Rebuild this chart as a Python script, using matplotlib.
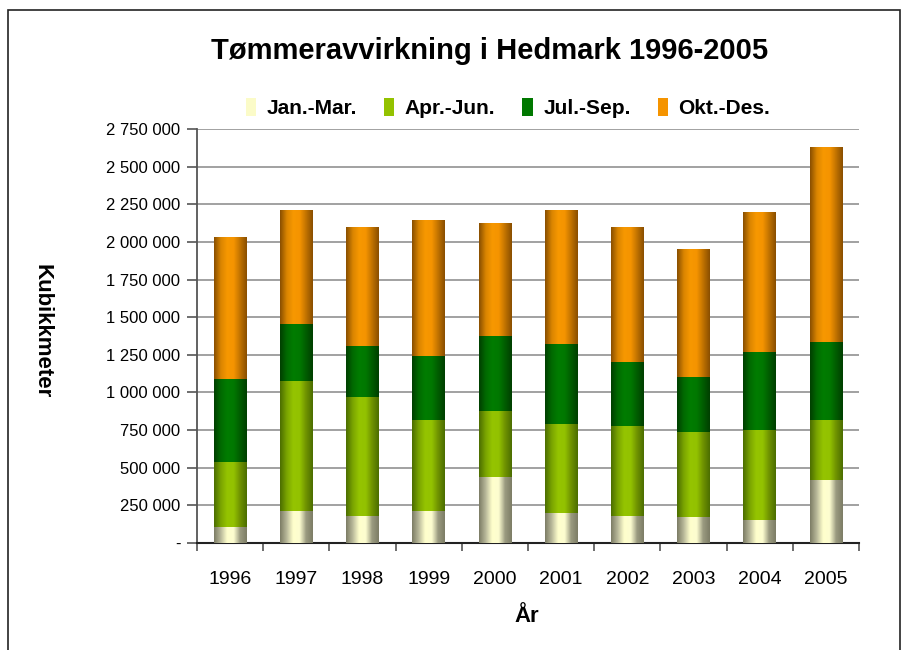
import matplotlib
matplotlib.use("Agg")
import matplotlib.pyplot as plt
import numpy as np
from matplotlib.colors import LinearSegmentedColormap
from matplotlib.patches import Rectangle
from matplotlib.ticker import FuncFormatter

years = ["1996", "1997", "1998", "1999", "2000", "2001", "2002", "2003", "2004", "2005"]
series_names = ["Jan.-Mar.", "Apr.-Jun.", "Jul.-Sep.", "Okt.-Des."]
jan_mar = [104000, 215000, 181000, 215000, 440000, 201000, 181000, 175000, 155000, 416000]
apr_jun = [436000, 862000, 790000, 604000, 438000, 591000, 598000, 564000, 597000, 403000]
jul_sep = [551000, 379000, 339000, 424000, 498000, 531000, 425000, 365000, 518000, 517000]
okt_des = [942000, 756000, 790000, 903000, 750000, 889000, 896000, 850000, 929000, 1295000]
yticks = [0, 250000, 500000, 750000, 1000000, 1250000, 1500000, 1750000, 2000000,
          2250000, 2500000, 2750000]

# gradient colours (edge, centre, edge)
grad_cols = [
    ["#7d7d66", "#b9b99a", "#ffffcc", "#fdfdd0", "#9a9a80", "#7d7d66"],
    ["#4c6e00", "#7aa400", "#95c400", "#93c200", "#6f9200", "#4c6e00"],
    ["#003f00", "#006a00", "#007c00", "#007800", "#005c00", "#003f00"],
    ["#8a4f00", "#d98400", "#f79800", "#f59400", "#c07200", "#8a4f00"],
]
solid_cols = ["#fbfbc8", "#93c200", "#007800", "#f59400"]

plt.rcParams['font.family'] = ['Liberation Sans', 'DejaVu Sans']

fig = plt.figure(figsize=(9.04, 6.5), dpi=100)
W, H = 904, 650
ax = fig.add_axes([197 / W, 1 - 543 / H, (859 - 197) / W, (543 - 129) / H])

# outer frame
fig.patches.append(Rectangle((8 / W, -0.05), (904 - 12) / W, 1.05 - 10 / H,
                             transform=fig.transFigure, fill=False,
                             edgecolor="#222222", linewidth=1.2))

x = np.arange(len(years))
bottom = np.zeros(len(years))
data = [jan_mar, apr_jun, jul_sep, okt_des]
for vals, gcols, scol, name in zip(data, grad_cols, solid_cols, series_names):
    bars = ax.bar(x, vals, 0.49, bottom=bottom, color=scol, linewidth=0,
                  label=name, zorder=3)
    cmap = LinearSegmentedColormap.from_list("g", gcols)
    grad = np.linspace(0, 1, 64).reshape(1, -1)
    for b in bars:
        x0, y0 = b.get_x(), b.get_y()
        im = ax.imshow(grad, extent=[x0, x0 + b.get_width(), y0, y0 + b.get_height()],
                       aspect='auto', cmap=cmap, zorder=4, interpolation='bilinear')
        im.set_clip_path(b)
    bottom += np.array(vals)

ax.set_xlim(-0.5, len(years) - 0.5)
ax.set_ylim(0, 2750000)
ax.set_yticks(yticks)

def fmt(v, pos):
    if v == 0:
        return "-"
    return f"{int(v):,}".replace(",", " ")

ax.yaxis.set_major_formatter(FuncFormatter(fmt))
ax.set_xticks(x)
ax.set_xticklabels(years)
ax.set_xticks(np.arange(-0.5, len(years)), minor=True)
ax.tick_params(axis='x', which='major', length=0, labelsize=14, pad=20)
ax.tick_params(axis='x', which='minor', length=6, width=1.2, color="#555555")
ax.tick_params(axis='y', length=7, width=1.2, color="#555555", labelsize=12, pad=5)

ax.grid(axis='y', color="#9a9a9a", linewidth=1.3, zorder=0)
for s in ["top", "right"]:
    ax.spines[s].set_visible(False)
ax.spines["left"].set_color("#555555")
ax.spines["left"].set_linewidth(1.3)
ax.spines["bottom"].set_color("#222222")
ax.spines["bottom"].set_linewidth(1.5)

fig.text(490 / W, 1 - 51 / H, "Tømmeravvirkning i Hedmark 1996-2005",
         ha='center', va='center', fontsize=21, fontweight='bold')
fig.text(42 / W, 1 - 331 / H, "Kubikkmeter", rotation=-90, ha='center', va='center',
         fontsize=16, fontweight='bold')
fig.text(527 / W, 1 - 617 / H, "År", ha='center', va='center',
         fontsize=16, fontweight='bold')

leg = fig.legend(loc='center', bbox_to_anchor=(508 / W, 1 - 108 / H), ncol=4,
                 frameon=False, handlelength=0.5, handleheight=1.0,
                 handletextpad=0.5, columnspacing=1.3,
                 prop={'weight': 'bold', 'size': 15})

fig.savefig("out.png", dpi=100)
